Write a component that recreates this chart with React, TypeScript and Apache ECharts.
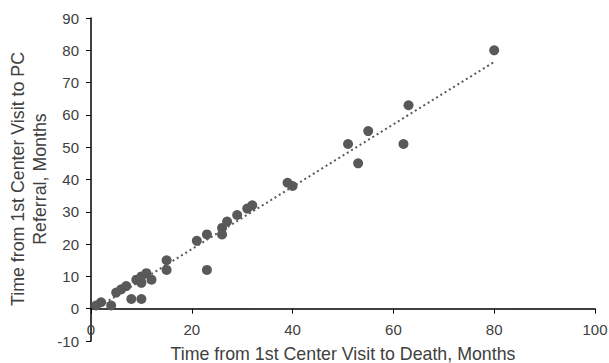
import React, { useEffect, useRef } from "react";
import * as echarts from "echarts";

const monthsToDeath = [1, 2, 4, 5, 6, 7, 8, 10, 9, 10, 10, 11, 12, 15, 15, 21, 23, 23, 26, 26, 27, 29, 31, 32, 39, 40, 51, 53, 55, 62, 63, 80];
const monthsToReferral = [1, 2, 1, 5, 6, 7, 3, 3, 9, 8, 10, 11, 9, 15, 12, 21, 23, 12, 23, 25, 27, 29, 31, 32, 39, 38, 51, 45, 55, 51, 63, 80];
const trendX = [1, 80];
const trendY = [0.1, 76.4];
const xTicks = [0, 20, 40, 60, 80, 100];
const yTicks = [-10, 0, 10, 20, 30, 40, 50, 60, 70, 80, 90];

const FONT = "Liberation Sans, Arial, sans-serif";
const GRID_TOP = 18;
const GRID_BOTTOM = 22;
const CHART_H = 363;

export default function App() {
  const ref = useRef<HTMLDivElement>(null);
  useEffect(() => {
    document.body.style.margin = "0";
    if (!ref.current) return;
    const chart = echarts.init(ref.current, undefined, { renderer: "svg" });
    const points = monthsToDeath.map((x, i) => [x, monthsToReferral[i]]);
    const trend = trendX.map((x, i) => [x, trendY[i]]);
    const yMin = yTicks[0];
    const yMax = yTicks[yTicks.length - 1];
    const plotH = CHART_H - GRID_TOP - GRID_BOTTOM;
    const zeroOffset = -((0 - yMin) / (yMax - yMin)) * plotH;
    chart.setOption({
      animation: false,
      grid: { left: 91, right: 14, top: GRID_TOP, bottom: GRID_BOTTOM, containLabel: false, outerBoundsMode: "none" },
      xAxis: {
        type: "value",
        min: xTicks[0],
        max: xTicks[xTicks.length - 1],
        interval: 20,
        offset: zeroOffset,
        splitLine: { show: false },
        axisLine: { show: true, onZero: false, lineStyle: { color: "#000", width: 1.5 } },
        axisTick: { show: true, length: 5, lineStyle: { color: "#000" } },
        axisLabel: { color: "#404040", fontSize: 15, fontFamily: FONT, margin: 13 },
        name: "Time from 1st Center Visit to Death, Months",
        nameLocation: "middle",
        nameGap: 36,
        nameTextStyle: { color: "#404040", fontSize: 17.8, fontFamily: FONT },
      },
      yAxis: {
        type: "value",
        min: yMin,
        max: yMax,
        interval: 10,
        splitLine: { show: false },
        axisLine: { show: true, onZero: false, lineStyle: { color: "#000", width: 1.5 } },
        axisTick: { show: true, length: 5, lineStyle: { color: "#000" } },
        axisLabel: { color: "#404040", fontSize: 15, fontFamily: FONT, margin: 12 },
      },
      graphic: [
        {
          type: "text",
          x: 29,
          y: 179,
          rotation: Math.PI / 2,
          style: {
            text: "Time from 1st Center Visit to PC\nReferral, Months",
            fill: "#404040",
            fontSize: 17.8,
            fontFamily: FONT,
            lineHeight: 22,
            align: "center",
            verticalAlign: "middle",
          },
        },
      ],
      series: [
        {
          type: "line",
          data: trend,
          symbol: "none",
          lineStyle: { color: "#595959", width: 2, type: [2, 3] },
          z: 1,
        },
        {
          type: "scatter",
          data: points,
          symbol: "circle",
          symbolSize: 10,
          itemStyle: { color: "#595959", opacity: 1 },
          z: 2,
        },
      ],
    });
    return () => chart.dispose();
  }, []);
  return <div ref={ref} style={{ width: 609, height: 363 }} />;
}
